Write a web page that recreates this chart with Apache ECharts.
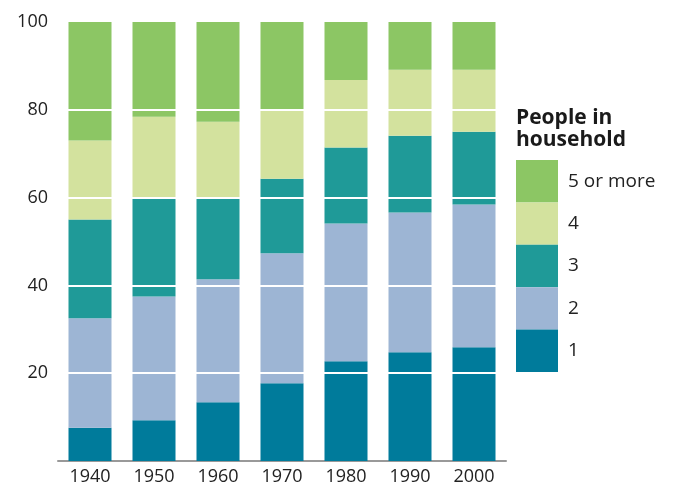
<!DOCTYPE html>
<html>
<head>
<meta charset="utf-8">
<script src="https://cdn.jsdelivr.net/npm/echarts@6/dist/echarts.min.js"></script>
<style>html,body{margin:0;padding:0;background:#fff}#c{width:690px;height:486px}</style>
</head>
<body>
<div id="c"></div>
<script>
var years = ['1940','1950','1960','1970','1980','1990','2000'];
// segment sizes (bottom to top)
var one   = [7.6, 9.3, 13.4, 17.7, 22.7, 24.8, 25.9];
var two   = [24.9, 28.2, 28.0, 29.6, 31.4, 31.8, 32.5];
var three = [22.5, 22.3, 18.6, 17.0, 17.3, 17.5, 16.6];
var four  = [18.0, 18.6, 17.3, 15.9, 15.4, 15.0, 14.1];
var five  = [27.0, 21.6, 22.7, 19.8, 13.2, 10.9, 10.9];
var seriesNames = ['1','2','3','4','5 or more'];
var colors = ['#007b9b','#9db5d4','#1f9a98','#d3e29e','#8cc664'];
var yTicks = [20, 40, 60, 80];
var legendTitle = 'People in\nhousehold';

var font = 'Open Sans';
var datasets = [one, two, three, four, five];
var series = datasets.map(function(d, i){
  var s = {
    name: seriesNames[i], type: 'bar', stack: 'total', data: d, barWidth: 43,
    itemStyle: {color: colors[i]}, emphasis: {disabled: true}
  };
  if (i === datasets.length - 1) {
    s.markLine = {
      silent: true, symbol: 'none', z: 10,
      lineStyle: {color: '#ffffff', width: 2, type: 'solid'},
      label: {show: false},
      data: yTicks.map(function(v){ return {yAxis: v}; })
    };
  }
  return s;
});

var chart = echarts.init(document.getElementById('c'));
chart.setOption({
  animation: false,
  backgroundColor: '#ffffff',
  title: {
    text: legendTitle, left: 511, top: 102, padding: [5,5,5,5],
    textStyle: {fontFamily: font, fontWeight: 'bold', fontSize: 21, lineHeight: 22, color: '#1a1a1a'}
  },
  legend: {
    orient: 'vertical', left: 511, top: 155,
    itemWidth: 42, itemHeight: 42.4, itemGap: 0,
    icon: 'rect',
    data: seriesNames.slice().reverse(),
    textStyle: {fontFamily: font, fontSize: 19, color: '#222', padding: [0,0,0,5]},
    selectedMode: false
  },
  grid: {left: 58, right: 184, top: 22, bottom: 24},
  xAxis: {
    type: 'category', data: years,
    axisLine: {lineStyle: {color: '#999', width: 2}},
    axisTick: {show: false},
    axisLabel: {fontFamily: font, fontSize: 18, color: '#222', margin: 7}
  },
  yAxis: {
    type: 'value', min: 0, max: 100, interval: 20,
    axisLine: {show: false}, axisTick: {show: false},
    splitLine: {show: false},
    axisLabel: {fontFamily: font, fontSize: 18, color: '#222', margin: 10, showMinLabel: false}
  },
  series: series
});
</script>
</body>
</html>
